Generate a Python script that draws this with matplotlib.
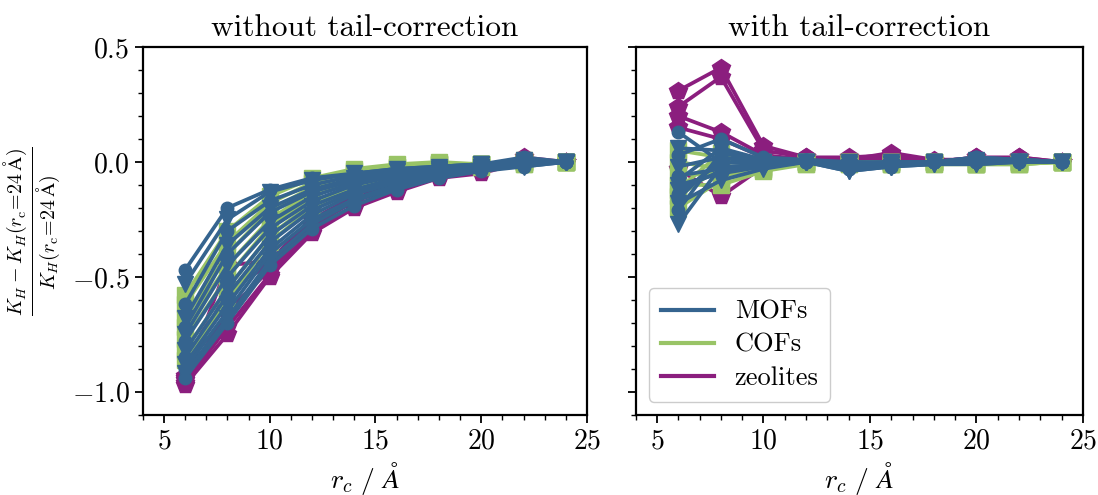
import matplotlib
matplotlib.use("Agg")
import matplotlib.pyplot as plt
from matplotlib.lines import Line2D
from matplotlib.ticker import MultipleLocator

plt.rcParams['font.family'] = 'serif'
plt.rcParams['font.serif'] = ['cmr10']
plt.rcParams['mathtext.fontset'] = 'cm'
plt.rcParams['axes.formatter.use_mathtext'] = True
plt.rcParams['font.size'] = 20

r_c = [6, 8, 10, 12, 14, 16, 18, 20, 22, 24]

# relative deviation of K_H, without tail correction
mofs_no_tc = [
    [-0.47, -0.20, -0.12, -0.07, -0.05, -0.03, -0.02, -0.01, 0.02, 0.0],
    [-0.53, -0.25, -0.13, -0.08, -0.05, -0.03, -0.02, -0.01, 0.01, 0.0],
    [-0.62, -0.30, -0.17, -0.10, -0.06, -0.04, -0.02, -0.01, 0.00, 0.0],
    [-0.68, -0.36, -0.20, -0.12, -0.07, -0.04, -0.03, -0.01, 0.00, 0.0],
    [-0.72, -0.40, -0.22, -0.13, -0.08, -0.05, -0.03, -0.02, 0.01, 0.0],
    [-0.75, -0.45, -0.26, -0.15, -0.09, -0.06, -0.03, -0.02, 0.00, 0.0],
    [-0.78, -0.50, -0.29, -0.17, -0.10, -0.06, -0.04, -0.02, 0.00, 0.0],
    [-0.82, -0.55, -0.32, -0.19, -0.12, -0.07, -0.04, -0.02, -0.01, 0.0],
    [-0.85, -0.58, -0.35, -0.21, -0.13, -0.08, -0.04, -0.02, -0.01, 0.0],
    [-0.88, -0.62, -0.38, -0.23, -0.14, -0.09, -0.05, -0.03, -0.01, 0.0],
    [-0.90, -0.65, -0.40, -0.25, -0.16, -0.10, -0.05, -0.03, -0.01, 0.0],
    [-0.92, -0.68, -0.43, -0.27, -0.17, -0.11, -0.06, -0.03, -0.02, 0.0],
    [-0.94, -0.70, -0.45, -0.29, -0.19, -0.12, -0.07, -0.04, -0.02, 0.0],
]
cofs_no_tc = [
    [-0.58, -0.30, -0.15, -0.07, -0.03, -0.01, 0.00, -0.01, 0.00, 0.0],
    [-0.62, -0.35, -0.18, -0.09, -0.04, -0.02, -0.01, -0.01, 0.00, 0.0],
    [-0.68, -0.40, -0.21, -0.11, -0.05, -0.02, -0.01, -0.01, 0.00, 0.0],
    [-0.72, -0.45, -0.25, -0.13, -0.07, -0.03, -0.01, -0.01, 0.01, 0.0],
    [-0.77, -0.50, -0.28, -0.15, -0.08, -0.04, -0.02, -0.01, 0.00, 0.0],
    [-0.82, -0.55, -0.32, -0.18, -0.10, -0.05, -0.03, -0.01, -0.01, 0.0],
    [-0.86, -0.60, -0.35, -0.20, -0.11, -0.06, -0.03, -0.02, -0.01, 0.0],
]
zeolites_no_tc = [
    [-0.93, -0.45, -0.43, -0.25, -0.15, -0.10, -0.05, -0.03, 0.02, 0.0],
    [-0.94, -0.55, -0.45, -0.27, -0.16, -0.11, -0.05, -0.03, 0.01, 0.0],
    [-0.95, -0.65, -0.47, -0.28, -0.17, -0.11, -0.06, -0.04, 0.00, 0.0],
    [-0.96, -0.72, -0.49, -0.30, -0.19, -0.12, -0.06, -0.04, 0.01, 0.0],
    [-0.97, -0.75, -0.50, -0.31, -0.20, -0.13, -0.07, -0.05, 0.00, 0.0],
]

# relative deviation of K_H, with tail correction
mofs_tc = [
    [0.13, 0.00, -0.01, 0.00, -0.02, -0.01, 0.00, 0.02, 0.01, 0.0],
    [0.06, 0.05, 0.00, 0.00, 0.00, 0.00, 0.00, 0.00, 0.00, 0.0],
    [0.03, 0.10, 0.02, 0.01, 0.00, -0.01, 0.00, 0.02, 0.01, 0.0],
    [-0.02, 0.02, 0.00, 0.00, -0.01, -0.01, 0.00, 0.01, 0.00, 0.0],
    [-0.06, -0.03, -0.01, 0.00, -0.03, -0.02, 0.00, 0.00, 0.00, 0.0],
    [-0.10, -0.05, -0.02, 0.00, -0.04, -0.02, -0.01, 0.00, 0.00, 0.0],
    [-0.14, 0.00, -0.01, 0.00, -0.02, -0.01, 0.00, 0.00, 0.01, 0.0],
    [-0.18, -0.08, -0.03, 0.00, -0.04, -0.02, -0.01, -0.01, 0.00, 0.0],
    [-0.21, 0.04, 0.00, 0.01, -0.01, 0.00, 0.00, 0.00, 0.00, 0.0],
    [-0.27, -0.02, -0.02, 0.00, -0.03, -0.02, 0.00, -0.01, 0.00, 0.0],
    [-0.08, 0.06, 0.01, 0.00, -0.01, -0.01, 0.00, 0.01, 0.00, 0.0],
    [-0.12, -0.04, -0.02, 0.00, -0.02, -0.01, 0.00, 0.00, 0.00, 0.0],
    [-0.16, 0.02, -0.01, 0.00, -0.03, -0.02, 0.00, 0.00, 0.01, 0.0],
]
cofs_tc = [
    [0.05, 0.02, -0.01, 0.00, 0.00, 0.00, 0.00, -0.01, -0.01, 0.0],
    [0.00, -0.03, -0.02, -0.01, 0.00, 0.00, -0.01, -0.01, 0.00, 0.0],
    [-0.05, -0.06, -0.03, 0.00, 0.00, -0.01, 0.00, -0.01, -0.01, 0.0],
    [-0.10, -0.10, -0.04, -0.01, -0.01, -0.01, -0.01, -0.01, -0.01, 0.0],
    [-0.15, -0.02, -0.02, 0.00, 0.00, 0.00, 0.00, 0.00, 0.00, 0.0],
    [-0.20, -0.08, -0.03, 0.00, -0.01, -0.01, 0.00, -0.01, 0.00, 0.0],
    [-0.12, 0.04, 0.00, 0.00, 0.00, 0.00, 0.00, 0.00, 0.00, 0.0],
]
zeolites_tc = [
    [0.31, 0.41, 0.07, 0.02, 0.02, 0.03, 0.00, 0.02, 0.02, 0.0],
    [0.24, 0.37, 0.05, 0.02, 0.01, 0.04, 0.01, 0.01, 0.02, 0.0],
    [0.20, 0.13, 0.03, 0.01, 0.01, 0.02, 0.00, 0.01, 0.01, 0.0],
    [0.15, 0.10, 0.02, 0.01, 0.00, 0.01, 0.00, 0.02, 0.01, 0.0],
    [-0.03, -0.15, -0.02, 0.00, 0.00, 0.00, 0.00, 0.00, 0.00, 0.0],
]

col_mof = '#35648f'
col_cof = '#99c466'
col_zeo = '#8b1e7e'

titles = ['without tail-correction', 'with tail-correction']

fig = plt.figure(figsize=(10.98, 4.95), dpi=100)
ax1 = fig.add_axes([0.130, 0.162, 0.4046, 0.743])
ax2 = fig.add_axes([0.579, 0.162, 0.4072, 0.743], sharey=ax1)

data = [(mofs_no_tc, cofs_no_tc, zeolites_no_tc), (mofs_tc, cofs_tc, zeolites_tc)]
for ax, (mofs, cofs, zeos), title in zip([ax1, ax2], data, titles):
    for y in zeos:
        ax.plot(r_c, y, color=col_zeo, marker='p', ms=13, lw=2.7)
    for y in cofs:
        ax.plot(r_c, y, color=col_cof, marker='s', ms=11, lw=2.7)
    for i, y in enumerate(mofs):
        ax.plot(r_c, y, color=col_mof, marker='o' if i % 2 == 0 else 'v',
                ms=9 if i % 2 == 0 else 12, lw=2.7)
    ax.set_xlim(4, 25)
    ax.set_title(title, fontsize=22.5, pad=8)
    ax.set_xlabel(r'$r_c\ /\ \AA$')
    ax.xaxis.set_minor_locator(MultipleLocator(1))
    ax.yaxis.set_minor_locator(MultipleLocator(0.1))
    ax.tick_params(which='major', length=6, width=1.3)
    ax.tick_params(which='minor', length=3.5, width=1)
    for s in ax.spines.values():
        s.set_linewidth(1.6)

ax1.set_ylim(-1.1, 0.5)
ax1.set_yticks([-1.0, -0.5, 0.0, 0.5])
ax1.set_ylabel(r'$\frac{K_H - K_H(r_\mathrm{c}\!=\!24\,\mathrm{\AA})}{K_H(r_\mathrm{c}\!=\!24\,\mathrm{\AA})}$',
               fontsize=20.5, labelpad=6)
ax2.tick_params(labelleft=False)

handles = [Line2D([], [], color=col_mof, lw=3),
           Line2D([], [], color=col_cof, lw=3),
           Line2D([], [], color=col_zeo, lw=3)]
ax2.legend(handles, ['MOFs', 'COFs', 'zeolites'], loc='lower left', fontsize=19,
           handlelength=2.0, borderpad=0.45, labelspacing=0.35, framealpha=1)

fig.savefig('out.png', dpi=100)
